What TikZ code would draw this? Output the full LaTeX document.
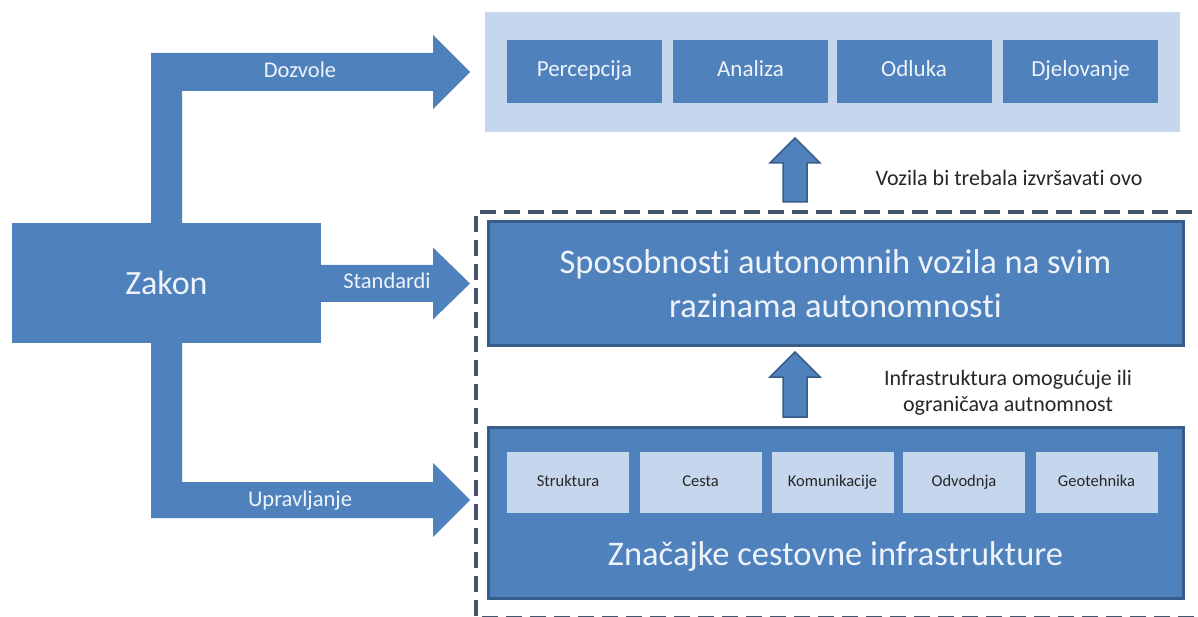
\documentclass[tikz,border=0pt]{standalone}
\usepackage{fontspec}
\setmainfont{Carlito}[Ligatures=NoCommon]
\usetikzlibrary{calc}
\definecolor{mblue}{HTML}{4F81BD}
\definecolor{dblue}{HTML}{385D8A}
\definecolor{lblue}{HTML}{C6D6EC}
\definecolor{dashcol}{HTML}{44546A}
\definecolor{wtext}{HTML}{EEF3FA}
\definecolor{ktext}{HTML}{262626}
\begin{document}
\begin{tikzpicture}[x=1pt,y=-1pt,
  panel/.style={fill=lblue, draw=none, inner sep=0pt},
  stagebox/.style={fill=mblue, draw=none, inner sep=0pt, text=wtext,
    minimum width=155pt, minimum height=63pt, text height=15pt, text depth=5pt,
    font=\fontsize{23}{27}\selectfont},
  bigbox/.style={fill=mblue, draw=dblue, line width=3pt, inner sep=0pt, text=wtext,
    minimum width=695pt, align=center},
  featbox/.style={fill=lblue, draw=none, inner sep=0pt, text=ktext,
    minimum width=122pt, minimum height=61pt, text height=11pt, text depth=3.5pt,
    font=\fontsize{16.5}{20}\selectfont},
  lawbox/.style={fill=mblue, draw=none, inner sep=0pt, text=wtext,
    minimum width=309pt, minimum height=120pt, font=\fontsize{34}{40}\selectfont},
  blockarrow/.style={fill=mblue, draw=none},
  uparrow/.style={fill=mblue, draw=dblue, line width=1.5pt, line join=miter},
  arrowlabel/.style={text=wtext, inner sep=0pt, text height=15pt, text depth=5pt,
    font=\fontsize{22.5}{27}\selectfont},
  note/.style={text=ktext, inner sep=0pt, align=center, font=\fontsize{22}{26}\selectfont}
]
\useasboundingbox (0,0) rectangle (1198,617);
\fill[white] (0,0) rectangle (1198,617);
\clip (0,0) rectangle (1198,617);

% top panel with stages
\node[panel, minimum width=695pt, minimum height=120pt] (panel) at (832.5,72) {};
\node[stagebox] (perc) at (584.5,71.5) {Percepcija};
\node[stagebox] (anal) at (750.5,71.5) {Analiza};
\node[stagebox] (odl) at (914,71.5) {Odluka};
\node[stagebox] (djel) at (1080.5,71.5) {Djelovanje};

% dashed frame
\draw[dashcol, line width=3.5pt, dash pattern=on 16pt off 8pt]
  (1240,212) -- (476,212) -- (476,618) -- (1240,618);

% big boxes
\node[bigbox, minimum height=123pt, font=\fontsize{34.5}{44}\selectfont] (spos) at (835.5,283.5)
  {Sposobnosti autonomnih vozila na svim\\razinama autonomnosti};
\node[bigbox, minimum height=171pt] (znac) at (835.5,512.5) {};
\node[text=wtext, inner sep=0pt, text height=23pt, text depth=7pt,
  font=\fontsize{34.5}{40}\selectfont] (znact) at (835.5,557)
  {Značajke cestovne infrastrukture};
\node[featbox] (f1) at (568,482.5) {Struktura};
\node[featbox] (f2) at (700.5,482.5) {Cesta};
\node[featbox] (f3) at (832.5,482.5) {Komunikacije};
\node[featbox] (f4) at (964,482.5) {Odvodnja};
\node[featbox] (f5) at (1096.5,482.5) {Geotehnika};

% up arrows
\draw[uparrow] (783,202) -- (783,163) -- (770,163) -- (795,138) -- (820,163) -- (807,163) -- (807,202) -- cycle;
\draw[uparrow] (783,417) -- (783,377) -- (770,377) -- (795,352) -- (820,377) -- (807,377) -- (807,417) -- cycle;
\node[note] (n1) at (1009,178) {Vozila bi trebala izvršavati ovo};
\node[note] (n2) at (1008,393) {Infrastruktura omogućuje ili\\ograničava autnomnost};

% law box and block arrows
\node[lawbox] (zakon) at (166.5,283) {Zakon};
\coordinate (tipD) at (470,72);
\coordinate (tipS) at (470,283.5);
\coordinate (tipU) at (470,500);
\fill[blockarrow] (151,225) -- (151,53) -- (433,53) -- (433,35) -- (tipD) -- (433,109) -- (433,91) -- (182,91) -- (182,225) -- cycle;
\fill[blockarrow] (319,265) -- (433,265) -- (433,247.5) -- (tipS) -- (433,319.5) -- (433,302) -- (319,302) -- cycle;
\fill[blockarrow] (151,341) -- (151,518) -- (433,518) -- (433,537) -- (tipU) -- (433,463) -- (433,482) -- (182,482) -- (182,341) -- cycle;
\node[arrowlabel] (lD) at (300,73) {Dozvole};
\node[arrowlabel] (lS) at (387,284) {Standardi};
\node[arrowlabel] (lU) at (300,501) {Upravljanje};
\end{tikzpicture}
\end{document}
